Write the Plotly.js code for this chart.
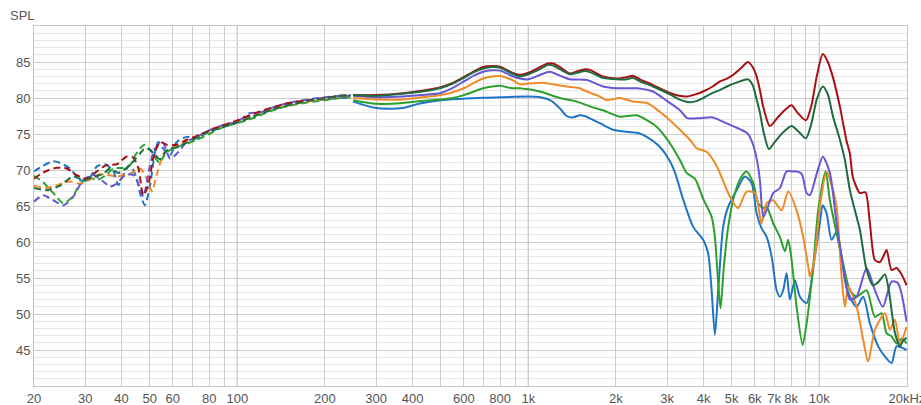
<!DOCTYPE html>
<html>
<head>
<meta charset="utf-8">
<script src="https://cdn.plot.ly/plotly-3.0.1.min.js"></script>
<style>html,body{margin:0;padding:0;background:#fff}#chart{width:921px;height:405px}</style>
</head>
<body>
<div id="chart"></div>
<script>
// ---------- tick labels ----------
const xTickVals = [20,30,40,50,60,70,80,90,100,200,300,400,500,600,700,800,900,1000,2000,3000,4000,5000,6000,7000,8000,9000,10000,20000];
const xTickText = ['20','30','40','50','60','','80','','100','200','300','400','','600','','800','','1k','2k','3k','4k','5k','6k','7k','8k','','10k','20kHz'];
const yTickVals = [45,50,55,60,65,70,75,80,85];
const decadeLines = [100,1000,10000];

// ---------- dark red ----------
const redLowF = [20,21,22.5,24,25.9,28,30.3,32.9,35.5,38.5,41.6,43.9,45.7,47.5,49.4,51.4,54.2,57.2,61.9,66.9,74.4,85,100,115,130,150,175,200,225,245];
const redLowS = [68.8,69.4,70.0,70.3,70.2,69.3,68.8,69.8,70.7,70.8,71.85,71.7,70.2,66.5,67.9,71.6,73.9,73.5,73.5,74.2,74.9,75.9,76.9,77.9,78.6,79.3,79.7,80.0,80.3,80.4];
const redHiF = [250,300,370,430,500,550,600,650,700,750,800,880,936,1000,1096,1168,1215,1284,1390,1469,1565,1628,1804,2016,2183,2288,2420,2681,3067,3300,3500,3750,3990,4300,4554,4813,5048,5400,5684,5900,6089,6250,6416,6764,7200,7600,8032,8400,8994,9400,9800,10288,10700,11134,11770,12410,12738,13044,13790,14400,14926,15524,16154,16600,17032,17720,18436,19182,19954];
const redHiS = [80.4,80.4,80.65,81.0,81.5,82.1,82.9,83.7,84.3,84.45,84.35,83.5,83.2,83.5,84.3,84.8,84.8,84.3,83.4,83.7,84.0,83.9,83.0,82.7,82.9,83.1,82.6,81.8,80.7,80.3,80.2,80.5,80.9,81.6,82.3,82.7,83.2,84.2,85.0,84.3,83.0,81.1,78.8,76.1,77.3,78.3,79.0,78.0,76.9,79.0,83.0,86.1,85.0,82.9,78.8,74.0,72.3,69.0,66.8,66.9,62.6,57.5,57.2,58.0,58.9,56.1,56.4,55.5,54.0];

// ---------- dark green ----------
const dkgLowF = [20,22.1,24.5,27.3,29.5,32,34.6,36.5,39,42.8,44.5,46.3,48.1,50.1,52.1,54.2,56.5,58.7,62.7,66.9,72.5,80,90,100,115,130,150,175,200,225,245];
const dkgLowS = [67.5,67.2,67.8,69.1,68.6,69.0,69.5,70.2,69.6,70.7,71.5,72.3,73.0,72.8,72.1,71.5,72.5,73.0,73.2,73.8,74.5,75.3,76.0,76.6,77.5,78.3,79.0,79.6,80.0,80.3,80.4];
const dkgHiF = [250,300,370,430,500,550,600,650,700,750,800,880,936,1000,1096,1168,1215,1284,1390,1469,1565,1628,1804,2016,2183,2288,2420,2681,3067,3300,3592,3800,3990,4300,4554,4813,5250,5684,5900,6089,6250,6416,6711,7000,7500,8032,8500,8994,9400,9800,10288,10700,11134,11770,12244,12738,13432,13790,14540,15284,16000,16806,17300,17720,18192,18924,19400,19954];
const dkgHiS = [80.4,80.3,80.6,80.9,81.4,82.0,82.8,83.6,84.1,84.3,84.2,83.4,83.0,83.3,84.0,84.6,84.5,84.0,83.3,83.5,83.75,83.6,82.8,82.6,82.6,82.8,82.3,81.6,80.5,79.8,79.4,79.6,80.0,80.7,81.1,81.6,82.2,82.6,81.8,79.8,78.0,75.5,72.9,73.8,75.2,76.1,75.3,74.4,76.5,79.8,81.6,80.5,77.5,74.2,71.4,67.2,63.5,61.7,56.1,54.0,54.5,55.5,53.5,50.5,47.4,45.5,46.3,46.7];

// ---------- purple ----------
const purLowF = [20,21.5,23.3,25.2,27.3,29.5,32,34.6,36.5,38.5,41.1,43.9,46.3,47.5,50.1,52.1,55.6,58.7,62.7,66.9,72.5,80,90,100,110,120,135,150,175,200,225,245];
const purLowS = [65.6,66.5,65.8,65.1,66.3,68.6,69.3,68.4,67.7,68.1,69.3,69.3,67.5,66.3,70.7,73.0,73.7,71.6,72.5,73.9,74.6,75.5,76.3,76.7,77.9,78.0,78.8,79.3,79.8,80.1,80.3,80.3];
const purHiF = [250,300,370,430,500,550,600,650,700,750,800,880,936,1000,1096,1186,1284,1390,1589,1804,2016,2361,2681,2994,3318,3520,3888,4308,4554,5048,5660,5900,6103,6250,6416,6591,6942,7322,7719,8114,8356,8693,9044,9284,9800,10288,10873,11466,12080,12738,13432,14540,15524,16542,17720,18628,19954];
const purHiS = [80.3,80.1,80.2,80.4,80.7,81.4,82.3,83.1,83.65,83.85,83.8,83.05,82.7,82.6,83.2,83.65,83.1,82.6,82.5,81.6,81.35,81.35,80.9,79.6,78.3,77.2,77.2,77.3,76.9,76.1,75.1,73.7,71.4,68.6,63.5,64.4,66.8,67.5,69.8,69.8,69.8,69.5,66.8,66.5,69.5,71.85,69.6,62.6,56.6,52.0,52.4,56.4,53.3,51.0,54.5,54.3,48.9];

// ---------- orange ----------
const orgLowF = [20,22,24,26.6,28.8,31,32.9,35,38.5,42.8,46.3,49.4,50.8,52.8,55.6,58.7,62.7,66.9,72.5,80,90,100,115,130,150,175,200,225,245];
const orgLowS = [67.8,67.5,67.9,68.4,68.1,68.6,69.3,69.4,69.1,69.5,70.2,68.4,67.0,69.3,72.1,73.0,73.3,74.0,74.6,75.4,76.1,76.7,77.6,78.4,79.0,79.5,79.9,80.2,80.3];
const orgHiF = [250,300,370,430,500,550,600,650,700,750,800,880,936,1000,1130,1215,1354,1504,1589,1762,1862,2063,2288,2559,2950,3318,3592,3797,4108,4448,4813,4930,5251,5625,6008,6334,6591,6942,7421,7818,8356,8804,9160,9284,9657,10046,10594,11000,11466,11928,12244,12568,13432,14154,14724,15524,16806,17484,18192,18924,19954];
const orgHiS = [80.0,79.8,79.8,80.1,80.4,80.8,81.35,82.1,82.7,83.0,83.05,82.5,81.9,82.0,82.1,81.9,81.6,81.35,80.9,80.2,79.7,80.0,79.5,79.3,77.5,75.6,74.2,73.0,72.5,70.5,67.2,66.3,64.7,67.0,66.8,62.6,65.4,65.8,64.4,67.0,64.4,60.7,56.6,55.2,58.0,64.9,69.8,68.0,64.9,55.2,51.0,53.8,51.0,46.4,43.4,47.8,50.1,47.8,49.2,45.9,48.2];

// ---------- green ----------
const grnLowF = [20,21.5,23.3,25.2,27,28.8,30.7,32.9,35.1,37.5,40.5,42.8,44.5,46.3,48.1,50.8,52.8,54.2,55.6,57.2,61.9,66.9,72.5,80,90,100,115,130,150,175,200,225,245];
const grnLowS = [69.2,68.3,66.8,65.4,66.2,68.0,69.0,68.6,69.2,70.2,70.3,70.7,72.0,73.0,73.5,72.5,71.4,71.0,71.8,72.5,73.2,73.6,74.2,75.0,76.0,76.5,77.3,78.2,78.9,79.4,79.7,80.0,80.1];
const grnHiF = [250,300,370,430,500,550,600,650,700,750,800,880,936,1000,1096,1284,1469,1667,1804,2063,2356,2760,3067,3318,3500,3737,3990,4265,4377,4493,4578,4700,4864,5128,5408,5625,5927,6166,6416,6591,6942,7322,7617,7818,8032,8356,8763,9044,9528,9915,10511,10873,11466,12080,12738,13432,14540,15524,16374,17032,17720,18436,19182,19954];
const grnHiS = [79.7,79.2,79.3,79.6,79.8,80.0,80.4,80.9,81.35,81.6,81.7,81.35,81.35,81.2,80.9,80.0,79.5,78.7,78.3,77.4,77.6,76.0,73.7,71.4,69.6,68.8,66.0,63.5,60.7,54.3,50.8,56.6,62.1,66.8,69.1,69.8,68.2,65.4,64.7,64.9,62.6,60.7,58.7,60.3,57.5,51.0,45.7,48.7,56.6,64.4,69.8,65.8,61.2,57.0,53.3,52.4,53.3,49.6,50.1,47.3,46.9,45.9,46.6,45.9];

// ---------- blue ----------
const bluLowF = [20,21.5,23.3,24.5,26.6,28.8,30.7,32.9,35.1,37.5,39,40.5,42.8,45.1,46.5,48.1,50.1,52.1,53.5,55.6,58.7,61.9,66.9,72.5,78.4,85,92,100,110,120,135,150,170,200,225,245];
const bluLowS = [69.8,70.6,71.2,71.0,70.2,68.6,68.6,70.5,70.8,69.8,67.9,69.3,70.7,68.8,66.5,65.1,67.9,72.5,73.9,73.0,72.1,73.9,74.6,74.4,75.3,75.8,76.3,76.8,77.4,78.1,78.8,79.2,79.5,79.8,80.0,80.0];
const bluHiF = [250,300,370,420,500,600,700,800,1000,1100,1200,1280,1354,1420,1504,1560,1762,1957,2177,2400,2550,2833,3067,3200,3406,3687,3990,4151,4265,4377,4493,4673,4864,5198,5550,5852,6089,6334,6591,6856,7133,7322,7514,7719,7924,8244,8578,9044,9657,10046,10263,10594,11020,11466,11928,12244,12738,13432,14154,14926,15940,16806,17720,18436,19954];
const bluHiS = [79.5,78.6,78.6,79.2,79.7,79.9,80.05,80.1,80.2,80.1,79.6,78.6,77.5,77.3,77.6,77.5,76.5,75.6,75.3,75.1,74.6,73.2,71.2,69.5,65.9,62.1,60.3,58.4,53.3,47.1,53.3,62.1,64.9,67.2,69.1,68.2,64.0,61.9,60.7,58.0,53.3,52.4,53.3,55.65,52.0,54.7,52.4,51.5,58.0,62.6,65.1,64.0,60.3,61.4,58.0,54.7,52.4,51.0,52.4,48.7,45.5,44.1,43.2,45.5,45.0];

const seriesList = [
  {color:'#1f74c8', lf:bluLowF, ls:bluLowS, hf:bluHiF, hs:bluHiS},
  {color:'#2ba02d', lf:grnLowF, ls:grnLowS, hf:grnHiF, hs:grnHiS},
  {color:'#ef8a27', lf:orgLowF, ls:orgLowS, hf:orgHiF, hs:orgHiS},
  {color:'#6757d2', lf:purLowF, ls:purLowS, hf:purHiF, hs:purHiS},
  {color:'#a80f12', lf:redLowF, ls:redLowS, hf:redHiF, hs:redHiS},
  {color:'#1d6b3e', lf:dkgLowF, ls:dkgLowS, hf:dkgHiF, hs:dkgHiS}
];

const traces = [];
seriesList.forEach(s => {
  traces.push({x:s.lf, y:s.ls, type:'scatter', mode:'lines', hoverinfo:'skip',
    line:{color:s.color, width:2, dash:'7px,4px', shape:'spline', smoothing:0.7}});
  traces.push({x:s.hf, y:s.hs, type:'scatter', mode:'lines', hoverinfo:'skip',
    line:{color:s.color, width:2, shape:'spline', smoothing:0.7}});
});

const fontFam = 'Liberation Sans, Arial, sans-serif';
const layout = {
  width:921, height:405,
  margin:{l:34, r:14, t:26, b:19},
  paper_bgcolor:'#ffffff', plot_bgcolor:'#ffffff',
  showlegend:false,
  font:{family:fontFam, size:13, color:'#555555'},
  xaxis:{
    type:'log', range:[Math.log10(20), Math.log10(20000) + 0.0004],
    tickmode:'array', tickvals:xTickVals, ticktext:xTickText,
    ticklabeloverflow:'allow',
    showgrid:true, gridcolor:'#cdcdcd', gridwidth:1,
    showline:true, linecolor:'#c4c4c4', linewidth:1, mirror:true,
    ticks:'', zeroline:false, automargin:false,
    tickfont:{family:fontFam, size:13, color:'#555555'}
  },
  yaxis:{
    range:[40,90], tickmode:'array', tickvals:yTickVals,
    showgrid:true, gridcolor:'#cccccc', gridwidth:1,
    minor:{dtick:1, showgrid:true, gridcolor:'#e6e6e6', gridwidth:1, ticklen:0},
    showline:true, linecolor:'#c4c4c4', linewidth:1, mirror:true,
    ticks:'', zeroline:false, automargin:false,
    tickfont:{family:fontFam, size:13, color:'#555555'}
  },
  shapes: decadeLines.map(v => ({type:'line', xref:'x', yref:'paper', x0:v, x1:v, y0:0, y1:1,
    layer:'below', line:{color:'#8a8a8a', width:1}})),
  annotations:[{text:'SPL', xref:'paper', yref:'paper', x:-0.03, y:1.028, xanchor:'left', yanchor:'middle',
    showarrow:false, font:{family:fontFam, size:13, color:'#555555'}}]
};

Plotly.newPlot('chart', traces, layout, {staticPlot:true, displayModeBar:false});
</script>
</body>
</html>
